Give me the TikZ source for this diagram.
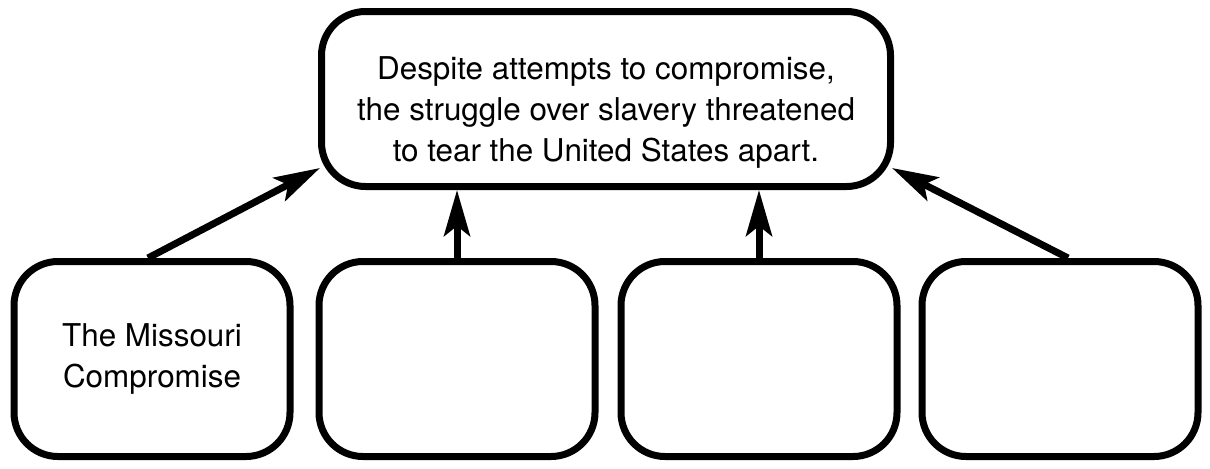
\documentclass[tikz,border=0pt]{standalone}
\usepackage{fontspec}
\setmainfont{TeX Gyre Heros}
\usetikzlibrary{arrows.meta}

\begin{document}
\begin{tikzpicture}[x=0.5pt, y=0.5pt,
  box/.style={draw, line width=3.5pt, rounded corners=22pt, align=center,
    font=\fontsize{15.7}{20.5}\selectfont},
  idea/.style={box, minimum width=138pt, minimum height=97.5pt},
  arr/.style={-{Stealth[length=23pt, width=13pt, inset=5pt]}, line width=3.5pt}]
  \useasboundingbox (0,0) rectangle (1210,468);
  \node[box, minimum width=284.5pt, minimum height=87.5pt, text height=66pt] (main) at (606,369)
    {Despite attempts to compromise,\\ the struggle over slavery threatened\\ to tear the United States apart.};
  \node[idea] (c1) at (152,109) {The Missouri\\ Compromise};
  \node[idea] (c2) at (457,109) {};
  \node[idea] (c3) at (759,109) {};
  \node[idea] (c4) at (1060,109) {};
  \draw[arr] ([xshift=-2pt]c1.north) -- ([shift={(1pt,11pt)}]main.south west);
  \draw[arr] (c2.north) -- (c2.north |- main.south);
  \draw[arr] (c3.north) -- (c3.north |- main.south);
  \draw[arr] ([xshift=4pt]c4.north) -- ([shift={(-1pt,11pt)}]main.south east);
\end{tikzpicture}
\end{document}
